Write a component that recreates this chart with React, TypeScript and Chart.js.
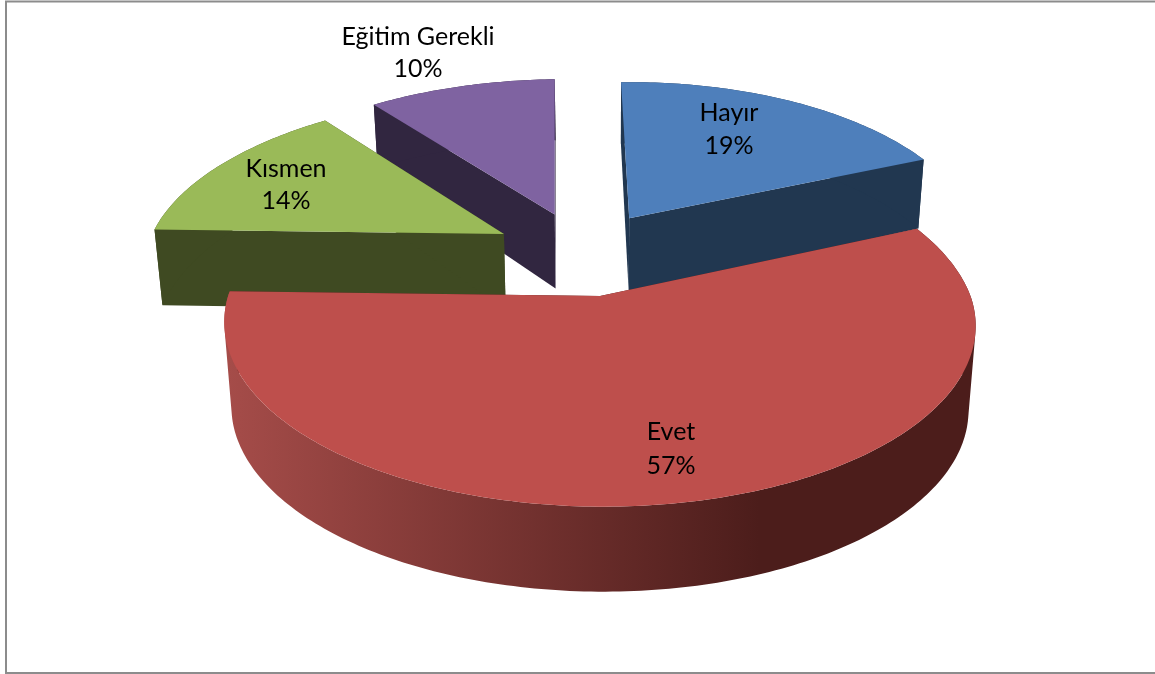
import React, { useEffect, useRef } from "react";
import { Chart, registerables } from "chart.js";

Chart.register(...registerables);

const categories = ["Hayır", "Evet", "Kısmen", "Eğitim Gerekli"];
const percents = [19, 57, 14, 10];
const topColors = ["#4E7FBB", "#BE4F4C", "#9ABA58", "#7F63A1"];
const wallColors = ["#213750", "#4C1D1B", "#3F4A22", "#312640"];
const labelAnchors = [
  [729, 113, 146],
  [671, 432, 466],
  [286, 169, 201],
  [418, 37, 69],
];
const drawOrder = [3, 0, 2, 1];

// Perspective camera for the tilted pie
const CAM = {
  cx: 600, cy: 297, a: 371.6, b: 178.7, g: 0.153, h: 0.019,
  drop: 85, dropFrom: 325, dropSlope: 0.098, ox: -0.052, oy: -0.256,
  lean: 7.5, leanLeft: 3, leanQuad: 5, leanRight: 6, roll: 2,
};

type Pt = [number, number];

function project(x: number, y: number, low: boolean): Pt {
  const X = x + CAM.ox;
  const Y = y + CAM.oy;
  const w = 1 - CAM.g * Y;
  const back = Math.max(0, -Y);
  const dx =
    X < 0
      ? CAM.lean * back - CAM.leanLeft * X * back
      : CAM.leanQuad * back * back - CAM.leanRight * X * back;
  const topY = CAM.cy + (CAM.b * Y) / w + CAM.roll * X;
  if (!low) return [CAM.cx + (CAM.a * X) / w + dx, topY];
  const drop = CAM.drop - Math.max(0, CAM.dropFrom - topY) * CAM.dropSlope;
  return [CAM.cx + (CAM.a * X) / (w + CAM.h) + dx, topY + drop];
}

function arcPoints(el: any, from: number, to: number, radius: number, low: boolean) {
  const mid = (el.startAngle + el.endAngle) / 2;
  const e = el.options.offset / el.outerRadius;
  const bx = e * Math.cos(mid);
  const by = e * Math.sin(mid);
  const n = Math.max(2, Math.ceil(Math.abs(to - from) * 60));
  const pts: Pt[] = [];
  for (let i = 0; i <= n; i++) {
    const t = from + ((to - from) * i) / n;
    pts.push(project(bx + radius * Math.cos(t), by + radius * Math.sin(t), low));
  }
  return pts;
}

function addPoly(ctx: CanvasRenderingContext2D, pts: Pt[]) {
  let area = 0;
  pts.forEach((p, i) => {
    const q = pts[(i + 1) % pts.length];
    area += p[0] * q[1] - q[0] * p[1];
  });
  const ordered = area < 0 ? pts.slice().reverse() : pts;
  ordered.forEach((p, i) => (i ? ctx.lineTo(p[0], p[1]) : ctx.moveTo(p[0], p[1])));
  ctx.closePath();
}

function fillPolys(ctx: CanvasRenderingContext2D, polys: Pt[][], fill: any) {
  ctx.beginPath();
  polys.forEach((p) => addPoly(ctx, p));
  ctx.fillStyle = fill;
  ctx.fill("nonzero");
}

const pie3d = {
  id: "pie3d",
  beforeDraw(chart: any) {
    const ctx = chart.ctx;
    ctx.save();
    ctx.strokeStyle = "#8C8C8C";
    ctx.lineWidth = 2;
    ctx.beginPath();
    ctx.moveTo(1155, 1.5);
    ctx.lineTo(6, 1.5);
    ctx.lineTo(6, 673);
    ctx.lineTo(1155, 673);
    ctx.stroke();
    ctx.restore();
  },
  beforeDatasetsDraw(chart: any) {
    const ctx: CanvasRenderingContext2D = chart.ctx;
    const arcs = chart.getDatasetMeta(0).data;
    ctx.save();
    for (const i of drawOrder) {
      const el = arcs[i];
      const s = el.startAngle;
      const e = el.endAngle;
      const apexTop = arcPoints(el, s, s, 0, false)[0];
      const apexLow = arcPoints(el, s, s, 0, true)[0];
      const top = arcPoints(el, s, e, 1, false);
      const low = arcPoints(el, s, e, 1, true);
      let wall: any = wallColors[i];
      if (i === 1) {
        const g = ctx.createLinearGradient(228, 0, 966, 0);
        g.addColorStop(0, "#A54C49");
        g.addColorStop(0.72, wallColors[i]);
        g.addColorStop(1, wallColors[i]);
        wall = g;
      }
      fillPolys(ctx, [[apexTop, top[0], low[0], apexLow]], wallColors[i]);
      fillPolys(ctx, [[apexTop, top[top.length - 1], low[low.length - 1], apexLow]], wallColors[i]);
      const strips: Pt[][] = [];
      for (let k = 0; k < top.length - 1; k++) {
        strips.push([top[k], top[k + 1], low[k + 1], low[k]]);
      }
      fillPolys(ctx, strips, wall);
      fillPolys(ctx, [[apexTop, ...top]], el.options.backgroundColor);
    }
    ctx.fillStyle = "#000";
    ctx.font = '25px Lato, "Open Sans", sans-serif';
    ctx.textAlign = "center";
    ctx.textBaseline = "middle";
    categories.forEach((name, i) => {
      const [x, y1, y2] = labelAnchors[i];
      ctx.fillText(name, x, y1);
      ctx.fillText(`${percents[i]}%`, x, y2);
    });
    ctx.restore();
    return false;
  },
};

export default function App() {
  const ref = useRef<HTMLCanvasElement>(null);
  useEffect(() => {
    document.body.style.margin = "0";
    const chart = new Chart(ref.current!, {
      type: "pie",
      data: {
        labels: categories,
        datasets: [{ data: percents, backgroundColor: topColors, borderWidth: 0, offset: 64 }],
      },
      options: {
        responsive: false,
        animation: false,
        rotation: -2.7,
        radius: 250,
        layout: { padding: 0 },
        plugins: { legend: { display: false }, tooltip: { enabled: false } },
      },
      plugins: [pie3d],
    } as any);
    return () => chart.destroy();
  }, []);
  return <canvas ref={ref} width={1155} height={674} style={{ display: "block" }} />;
}
